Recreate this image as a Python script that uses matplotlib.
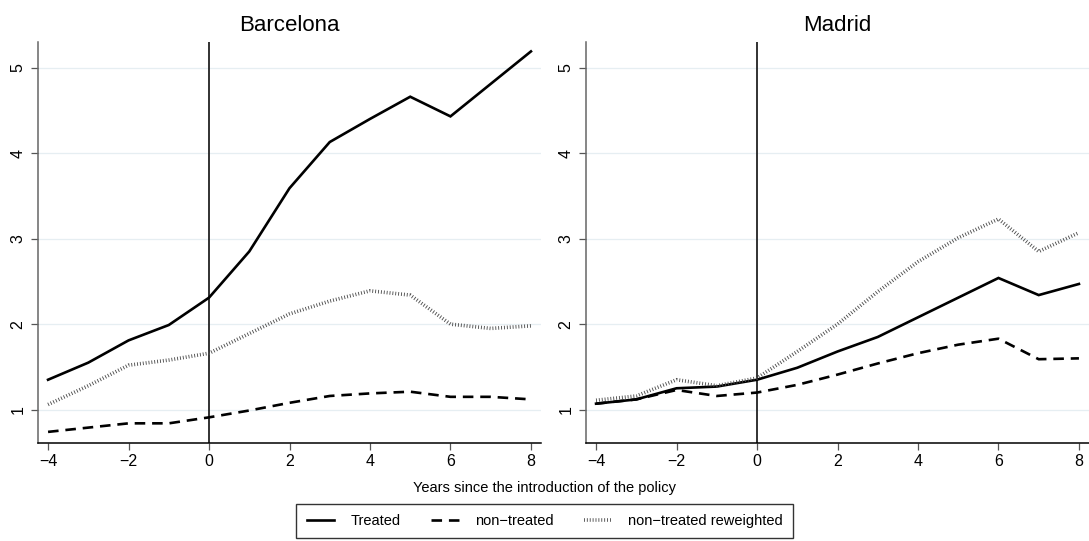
import matplotlib
matplotlib.use("Agg")
import matplotlib.pyplot as plt
from matplotlib.lines import Line2D

plt.rcParams['font.family'] = ['Liberation Sans', 'DejaVu Sans']
plt.rcParams['axes.unicode_minus'] = True

years = [-4, -3, -2, -1, 0, 1, 2, 3, 4, 5, 6, 7, 8]

bcn_treated = [1.35, 1.55, 1.81, 1.99, 2.31, 2.85, 3.59, 4.13, 4.40, 4.66, 4.43, 4.81, 5.19]
bcn_nontreated = [0.74, 0.79, 0.84, 0.84, 0.91, 0.99, 1.08, 1.16, 1.19, 1.21, 1.15, 1.15, 1.12]
bcn_reweighted = [1.06, 1.28, 1.52, 1.58, 1.66, 1.89, 2.12, 2.27, 2.39, 2.34, 2.00, 1.95, 1.98]

mad_treated = [1.07, 1.12, 1.25, 1.27, 1.35, 1.49, 1.68, 1.85, 2.08, 2.31, 2.54, 2.34, 2.47]
mad_nontreated = [1.07, 1.12, 1.23, 1.16, 1.20, 1.29, 1.41, 1.54, 1.66, 1.76, 1.83, 1.59, 1.60]
mad_reweighted = [1.11, 1.16, 1.35, 1.28, 1.37, 1.68, 2.00, 2.38, 2.73, 3.01, 3.23, 2.85, 3.07]

panels = ["Barcelona", "Madrid"]
series_labels = ["Treated", "non\u2212treated", "non\u2212treated reweighted"]
xticks = [-4, -2, 0, 2, 4, 6, 8]
yticks = [1, 2, 3, 4, 5]
xlabel = "Years since the introduction of the policy"

W, H = 1089, 541
fig = plt.figure(figsize=(W / 100, H / 100), dpi=100)

styles = [
    dict(color="black", lw=1.9, ls="-"),
    dict(color="black", lw=1.9, ls=(0, (4.0, 2.6))),
    dict(color="#4a4a4a", lw=2.6, ls=(0, (0.24, 0.56))),
]

ax_l = fig.add_axes([38 / W, 1 - 443 / H, (541 - 38) / W, (443 - 42) / H])
ax_r = fig.add_axes([586 / W, 1 - 443 / H, (1089 - 586) / W, (443 - 42) / H])

data = [
    (bcn_treated, bcn_nontreated, bcn_reweighted),
    (mad_treated, mad_nontreated, mad_reweighted),
]

for ax, title, vals in zip([ax_l, ax_r], panels, data):
    for yv in yticks:
        ax.axhline(yv, color="#e6eef2", lw=0.9, zorder=0)
    ax.axvline(0, color="#222222", lw=1.3, zorder=1)
    for v, st in zip(vals, styles):
        ax.plot(years, v, color=st["color"], lw=st["lw"], linestyle=st["ls"],
                dash_capstyle="butt", solid_joinstyle="miter", zorder=3)
    ax.set_xlim(-4.25, 8.25)
    ax.set_ylim(0.61, 5.30)
    ax.set_xticks(xticks)
    ax.set_yticks(yticks)
    ax.set_xticklabels([str(t).replace("-", "\u2212") for t in xticks])
    ax.set_yticklabels([str(t) for t in yticks], rotation=90, va="center")
    ax.tick_params(axis="both", length=5, width=0.9, color="#555555",
                   labelsize=11.5, pad=4)
    ax.tick_params(axis="x", pad=3)
    for s in ["top", "right"]:
        ax.spines[s].set_visible(False)
    ax.spines["left"].set_color("#666666")
    ax.spines["left"].set_linewidth(1.1)
    ax.spines["bottom"].set_color("black")
    ax.spines["bottom"].set_linewidth(1.1)
    ax.set_title(title, fontsize=16, pad=8)

fig.text(0.5, 1 - 488 / H, xlabel, ha="center", va="center", fontsize=10.5)

handles = [Line2D([], [], color=st["color"], lw=st["lw"], linestyle=st["ls"],
                  dash_capstyle="butt") for st in styles]
leg = fig.legend(handles, series_labels, loc="upper center",
                 bbox_to_anchor=(0.5, 1 - 504 / H), ncol=3, fontsize=10.5,
                 frameon=True, fancybox=False, edgecolor="black",
                 handlelength=1.9, columnspacing=2.1, borderpad=0.7,
                 handletextpad=1.1, borderaxespad=0.0)
leg.get_frame().set_linewidth(1.0)

fig.savefig("out.png", dpi=100)
